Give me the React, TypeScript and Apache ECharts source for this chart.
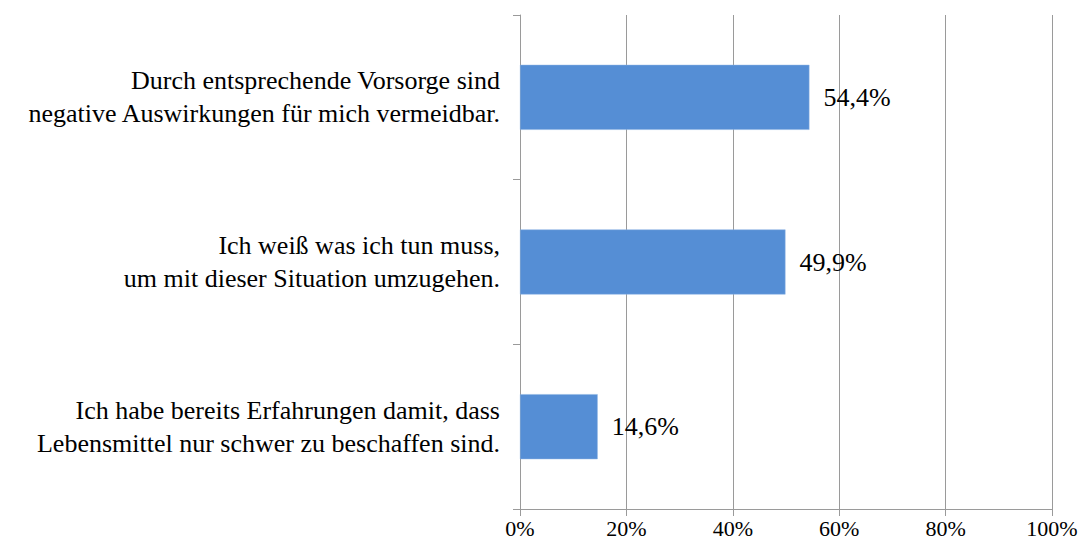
import React, { useEffect, useRef } from "react";
import * as echarts from "echarts";

const categories = [
  "Durch entsprechende Vorsorge sind\nnegative Auswirkungen für mich vermeidbar.",
  "Ich weiß was ich tun muss,\num mit dieser Situation umzugehen.",
  "Ich habe bereits Erfahrungen damit, dass\nLebensmittel nur schwer zu beschaffen sind.",
];
const values = [54.4, 49.9, 14.6];
const xTicks = [0, 20, 40, 60, 80, 100];

export default function App() {
  const ref = useRef<HTMLDivElement>(null);
  useEffect(() => {
    if (!ref.current) return;
    const chart = echarts.init(ref.current, null, { renderer: "svg" });
    const font = "'Liberation Serif', 'Times New Roman', Times, serif";
    chart.setOption({
      animation: false,
      textStyle: { fontFamily: font },
      grid: {
        left: 512,
        right: 26,
        top: 7,
        bottom: 35,
        containLabel: false,
        outerBoundsMode: "none",
      },
      xAxis: {
        type: "value",
        min: xTicks[0],
        max: xTicks[xTicks.length - 1],
        interval: 20,
        axisLine: { show: true, lineStyle: { color: "#9a9a9a", width: 1 } },
        axisTick: { show: true, length: 7, lineStyle: { color: "#9a9a9a" } },
        splitLine: { show: true, lineStyle: { color: "#9a9a9a", width: 1 } },
        axisLabel: {
          formatter: (v: number) => v + "%",
          color: "#000",
          fontFamily: font,
          fontSize: 22,
          margin: 8,
        },
      },
      yAxis: {
        type: "category",
        data: categories,
        inverse: true,
        axisLine: { show: true, lineStyle: { color: "#9a9a9a", width: 1 } },
        axisTick: { show: true, length: 7, lineStyle: { color: "#9a9a9a" } },
        axisLabel: {
          color: "#000",
          fontFamily: font,
          fontSize: 26,
          lineHeight: 33,
          margin: 20,
          align: "right",
        },
      },
      series: [
        {
          type: "bar",
          data: values,
          barWidth: 65,
          itemStyle: { color: "#558ED5", borderColor: "#8db3e2", borderWidth: 0.5 },
          label: {
            show: true,
            position: "right",
            distance: 14,
            formatter: (p: any) => p.value.toFixed(1).replace(".", ",") + "%",
            color: "#000",
            fontFamily: font,
            fontSize: 26,
          },
        },
      ],
    });
    return () => chart.dispose();
  }, []);
  return <div ref={ref} style={{ width: 1070, height: 536 }} />;
}
